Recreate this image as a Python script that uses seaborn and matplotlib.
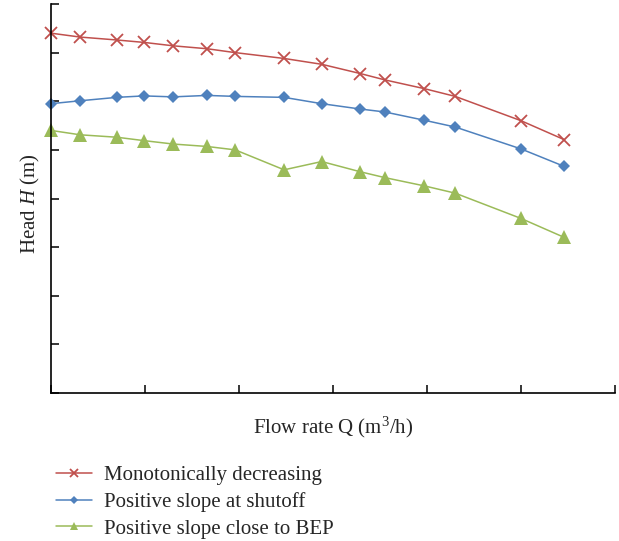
import matplotlib
matplotlib.use("Agg")
import matplotlib.pyplot as plt
import seaborn as sns
import pandas as pd

# Data (axis units are arbitrary, no tick labels)
flow = [0.0, 0.31, 0.70, 0.99, 1.30, 1.66, 1.96, 2.48, 2.88, 3.29, 3.55, 3.97, 4.30, 5.00, 5.46]
head_mono = [7.40, 7.32, 7.26, 7.21, 7.14, 7.08, 7.00, 6.88, 6.76, 6.57, 6.44, 6.26, 6.10, 5.60, 5.21]
head_shutoff = [5.95, 6.01, 6.08, 6.11, 6.09, 6.12, 6.10, 6.08, 5.95, 5.84, 5.78, 5.61, 5.47, 5.02, 4.66]
head_bep = [5.40, 5.31, 5.26, 5.19, 5.12, 5.07, 5.00, 4.59, 4.76, 4.55, 4.43, 4.26, 4.11, 3.59, 3.20]
series_names = ["Monotonically decreasing", "Positive slope at shutoff", "Positive slope close to BEP"]
colors = ["#C0504D", "#4F81BD", "#9BBB59"]

sns.set_theme(style="white")
plt.rcParams["font.family"] = ["Liberation Serif", "DejaVu Serif"]
plt.rcParams["mathtext.fontset"] = "custom"
plt.rcParams["mathtext.rm"] = "Liberation Serif"
plt.rcParams["mathtext.it"] = "Liberation Serif:italic"

fig = plt.figure(figsize=(6.19, 5.41), dpi=100)
ax = fig.add_axes([51 / 619, 148 / 541, 564 / 619, 389 / 541])

markers = ["x", "D", "^"]
msizes = [9, 6.5, 9.5]
for name, vals, c, m, ms in zip(series_names, [head_mono, head_shutoff, head_bep], colors, markers, msizes):
    df = pd.DataFrame({"Q": flow, "H": vals})
    sns.lineplot(data=df, x="Q", y="H", ax=ax, color=c, marker=m, markersize=ms,
                 markeredgewidth=1.3 if m == "x" else 0, markeredgecolor=c,
                 linewidth=1.1, label=name, sort=False, clip_on=False)

ax.set_xlim(0, 6)
ax.set_ylim(0, 8)
ax.set_xticks(range(0, 7))
ax.set_yticks(range(0, 9))
ax.set_xticklabels([])
ax.set_yticklabels([])
ax.tick_params(direction="in", length=5.5, width=1.1, color="black", bottom=True, left=True)
for s in ["top", "right"]:
    ax.spines[s].set_visible(False)
for s in ["left", "bottom"]:
    ax.spines[s].set_color("black")
    ax.spines[s].set_linewidth(1.2)

ax.set_xlabel(r"Flow rate Q (m$^3$/h)", fontsize=15, labelpad=12)
ax.set_ylabel(r"Head $\mathit{H}$ (m)", fontsize=15, labelpad=3)
ax.yaxis.label.set_y(0.487)

ax.get_legend().remove()
handles, labels = ax.get_legend_handles_labels()
fig.legend(handles, labels, loc="upper left", bbox_to_anchor=(48 / 619, 1 - 457 / 541),
           frameon=False, fontsize=15, markerscale=0.6, handlelength=1.7,
           handletextpad=0.6, labelspacing=0.34, borderaxespad=0)

fig.savefig("out.png", dpi=100)
